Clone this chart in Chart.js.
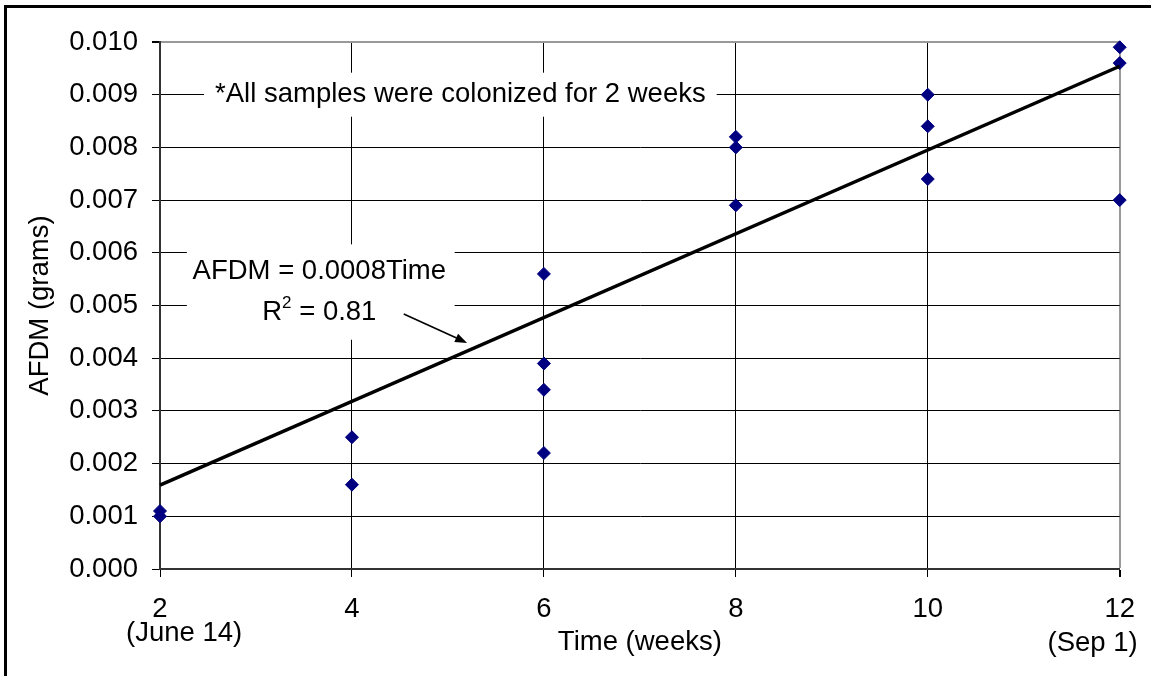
<!DOCTYPE html>
<html>
<head>
<meta charset="utf-8">
<script src="https://cdn.jsdelivr.net/npm/chart.js@4.4.1/dist/chart.umd.min.js"></script>
<style>
  html, body { margin: 0; padding: 0; background: #fff; }
  #wrap { width: 1151px; height: 676px; }
</style>
</head>
<body>
<div id="wrap"><canvas id="afdmChart" width="1151" height="676"></canvas></div>
<script>
// samples
const timeWeeks = [2, 2, 4, 4, 6, 6, 6, 6, 8, 8, 8, 10, 10, 10, 12, 12, 12];
const afdmGrams = [0.0011, 0.0010, 0.0025, 0.0016, 0.0056, 0.0039, 0.0034, 0.0022,
                   0.0082, 0.0080, 0.0069, 0.0090, 0.0084, 0.0074, 0.0099, 0.0096, 0.0070];

// trend line end points
const trendTime = [2, 12];
const trendAfdm = [0.00159, 0.00954];

const xTickLabels = ['2', '4', '6', '8', '10', '12'];
const xSubLabels = ['(June 14)', '', '', '', '', '(Sep 1)'];
const yTickLabels = ['0.000', '0.001', '0.002', '0.003', '0.004', '0.005',
                     '0.006', '0.007', '0.008', '0.009', '0.010'];

const FONT = "'Liberation Sans', Arial, sans-serif";
const FS = 27.5;

const toPoints = (xs, ys) => xs.map((x, i) => ({ x: x, y: ys[i] }));

const notesPlugin = {
  id: 'notes',
  beforeDatasetsDraw: chart => {
    const { ctx, scales: { x, y } } = chart;
    ctx.save();
    ctx.font = `${FS}px ${FONT}`;
    ctx.textBaseline = 'middle';
    ctx.textAlign = 'center';
    ctx.fillStyle = '#fff';

    // colonized note
    const note = '*All samples were colonized for 2 weeks';
    const nx = x.getPixelForValue(5.13), ny = y.getPixelForValue(0.009);
    const nw = ctx.measureText(note).width + 22;
    ctx.fillRect(nx - nw / 2, ny - 22, nw, 44);
    ctx.fillStyle = '#000';
    ctx.fillText(note, nx, ny);

    // equation box
    const bx0 = x.getPixelForValue(2.28), bx1 = x.getPixelForValue(5.07);
    const by0 = y.getPixelForValue(0.00616), by1 = y.getPixelForValue(0.00435);
    ctx.fillStyle = '#fff';
    ctx.fillRect(bx0, by0, bx1 - bx0, by1 - by0);
    ctx.fillStyle = '#000';
    const ex = x.getPixelForValue(3.66);
    ctx.fillText('AFDM = 0.0008Time', ex, y.getPixelForValue(0.00564));

    const ly = y.getPixelForValue(0.00486);
    const wR = ctx.measureText('R').width;
    const wRest = ctx.measureText(' = 0.81').width;
    ctx.font = `17px ${FONT}`;
    const wSup = ctx.measureText('2').width;
    let cx = ex - (wR + wSup + wRest) / 2;
    ctx.textAlign = 'left';
    ctx.fillText('2', cx + wR, ly - 10);
    ctx.font = `${FS}px ${FONT}`;
    ctx.fillText('R', cx, ly);
    ctx.fillText(' = 0.81', cx + wR + wSup, ly);
    ctx.restore();
  },
  afterDraw: chart => {
    const { ctx, scales: { x, y }, chartArea } = chart;
    ctx.save();

    // arrow to the trend line
    const ax0 = x.getPixelForValue(4.54), ay0 = y.getPixelForValue(0.00484);
    const ax1 = x.getPixelForValue(5.20), ay1 = y.getPixelForValue(0.00429);
    const ang = Math.atan2(ay1 - ay0, ax1 - ax0);
    ctx.strokeStyle = '#000';
    ctx.fillStyle = '#000';
    ctx.lineWidth = 1.6;
    ctx.beginPath();
    ctx.moveTo(ax0, ay0);
    ctx.lineTo(ax1 - 8 * Math.cos(ang), ay1 - 8 * Math.sin(ang));
    ctx.stroke();
    ctx.beginPath();
    ctx.moveTo(ax1, ay1);
    ctx.lineTo(ax1 - 12 * Math.cos(ang) + 4.5 * Math.sin(ang), ay1 - 12 * Math.sin(ang) - 4.5 * Math.cos(ang));
    ctx.lineTo(ax1 - 12 * Math.cos(ang) - 4.5 * Math.sin(ang), ay1 - 12 * Math.sin(ang) + 4.5 * Math.cos(ang));
    ctx.closePath();
    ctx.fill();

    // dates under first and last tick
    ctx.font = `${FS}px ${FONT}`;
    ctx.textBaseline = 'middle';
    ctx.textAlign = 'left';
    ctx.fillText(xSubLabels[0], x.getPixelForValue(2) - 34, chartArea.bottom + 64);
    ctx.textAlign = 'right';
    ctx.fillText(xSubLabels[5], x.getPixelForValue(12) + 18, chartArea.bottom + 74);

    // outer frame (left and top only show)
    ctx.lineWidth = 3;
    ctx.beginPath();
    ctx.moveTo(5.5, 676);
    ctx.lineTo(5.5, 6.5);
    ctx.lineTo(1151, 6.5);
    ctx.stroke();
    ctx.restore();
  }
};

const config = {
  type: 'scatter',
  data: {
    datasets: [
      {
        label: 'AFDM',
        data: toPoints(timeWeeks, afdmGrams),
        pointStyle: 'rectRot',
        pointRadius: 6.5,
        pointBorderWidth: 1,
        backgroundColor: '#000080',
        borderColor: '#000080',
        clip: false,
        order: 2
      },
      {
        label: 'Trend',
        data: toPoints(trendTime, trendAfdm),
        showLine: true,
        borderColor: '#000',
        borderWidth: 3.5,
        pointRadius: 0,
        clip: false,
        order: 1
      }
    ]
  },
  options: {
    responsive: false,
    devicePixelRatio: 1,
    animation: false,
    events: [],
    layout: {
      padding: { left: 0, top: 42, right: 29, bottom: 0 }
    },
    plugins: {
      legend: { display: false },
      tooltip: { enabled: false }
    },
    scales: {
      x: {
        type: 'linear',
        min: 2,
        max: 12,
        afterFit: scale => { scale.height = 107; },
        ticks: {
          stepSize: 2,
          padding: 16,
          color: '#000',
          font: { family: FONT, size: FS, lineHeight: 1.2 },
          callback: (v, i) => xTickLabels[i]
        },
        grid: {
          color: c => (c.tick && c.tick.value === 12 ? '#999' : '#000'),
          lineWidth: c => (c.tick && c.tick.value === 12 ? 2 : 1),
          tickColor: '#000',
          tickLength: 8
        },
        border: { color: '#333', width: 2 },
        title: {
          display: true,
          text: 'Time (weeks)',
          color: '#000',
          font: { family: FONT, size: FS, lineHeight: 1.2 },
          padding: { top: 0, bottom: 17 }
        }
      },
      y: {
        min: 0,
        max: 0.01,
        afterFit: scale => { scale.width = 160; },
        ticks: {
          stepSize: 0.001,
          padding: 14,
          color: '#000',
          font: { family: FONT, size: FS, lineHeight: 1.2 },
          callback: (v, i) => yTickLabels[i]
        },
        grid: {
          color: c => (c.tick && c.tick.value > 0.0095 ? '#999' : '#000'),
          lineWidth: c => (c.tick && c.tick.value > 0.0095 ? 2 : 1),
          tickColor: '#000',
          tickLength: 8
        },
        border: { color: '#333', width: 2 },
        title: {
          display: true,
          text: 'AFDM (grams)',
          color: '#000',
          font: { family: FONT, size: FS, lineHeight: 1.2 },
          padding: { top: 24, bottom: 0 }
        }
      }
    }
  },
  plugins: [notesPlugin]
};

const afdmChart = new Chart(document.getElementById('afdmChart').getContext('2d'), config);
</script>
</body>
</html>
